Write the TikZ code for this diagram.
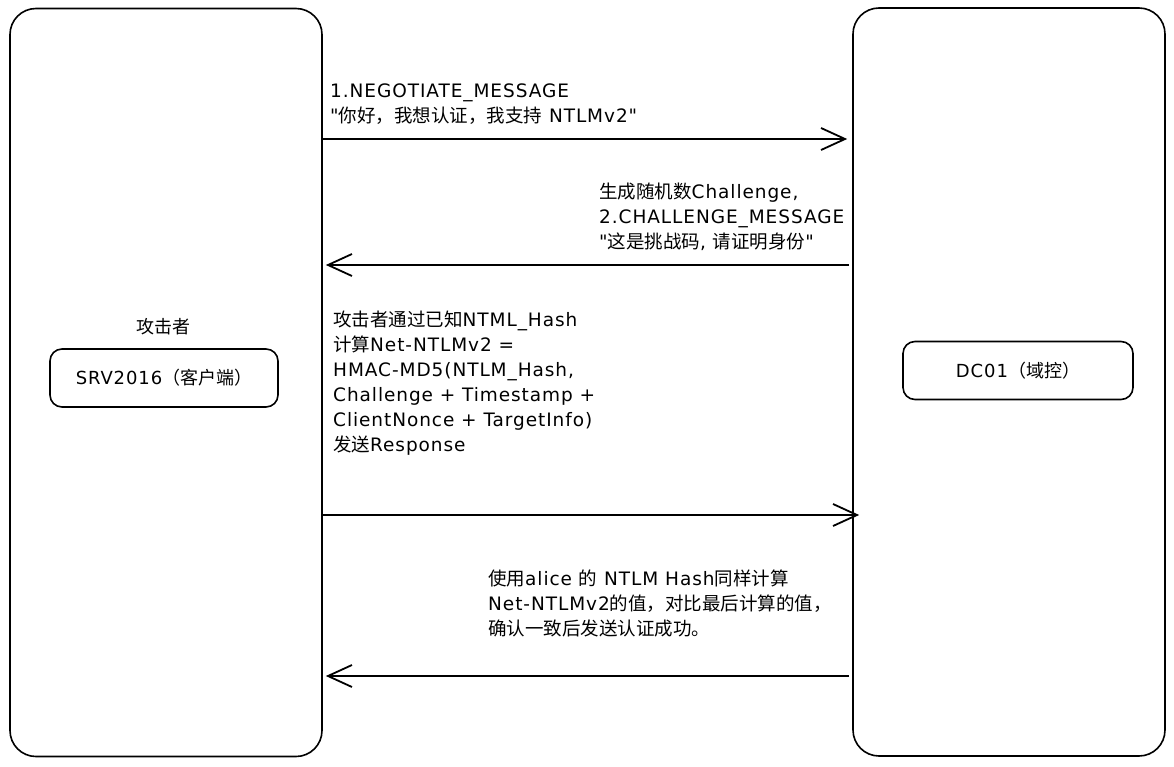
\documentclass[tikz,border=0pt]{standalone}
\usepackage{fontspec}
\setmainfont{DejaVu Sans}[LetterSpace=5, Ligatures=TeXOff]
\newfontfamily\cjk{Noto Sans CJK SC}
\usetikzlibrary{arrows.meta}
\newcommand\zh[1]{{\cjk #1}}
\newcommand\dq{\symbol{34}}
\begin{document}
\begin{tikzpicture}[x=1pt,y=-1pt,
  lane/.style={draw, line width=1.6pt, rounded corners=26pt, minimum width=312pt, minimum height=748pt, inner sep=0pt},
  host/.style={draw, line width=1.6pt, rounded corners=12pt, minimum height=58pt, inner sep=0pt, font=\fontsize{18}{20}\selectfont},
  msg/.style={anchor=north west, align=left, inner sep=0pt, font=\fontsize{18.5}{25}\selectfont},
  arr/.style={line width=1.8pt, -{Straight Barb[length=24pt, width=22pt, line width=1.8pt]}}]
\useasboundingbox (0,0) rectangle (1174,767);
\node[lane] (srv) at (166,382.5) {};
\node[lane] (dc) at (1009,382) {};
\node[font=\fontsize{18}{20}\selectfont, inner sep=0pt] (atk) at (163,327) {\zh{攻击者}};
\node[host, minimum width=228pt] (srvbox) at (164,378) {SRV2016\zh{（客户端）}};
\node[host, minimum width=230pt] (dcbox) at (1018,370.5) {DC01\zh{（域控）}};

\node[msg] (m1) at (330,84) {1.NEGOTIATE\_MESSAGE\\\dq\zh{你好，我想认证，我支持} NTLMv2\dq};
\node[msg] (m2) at (599,183) {\zh{生成随机数}Challenge,\\2.CHALLENGE\_MESSAGE\\\dq\zh{这是挑战码}, \zh{请证明身份}\dq};
\node[msg] (m3) at (333,311) {\zh{攻击者通过已知}NTML\_Hash\\\zh{计算}Net-NTLMv2 =\\HMAC-MD5(NTLM\_Hash,\\Challenge + Timestamp +\\ClientNonce + TargetInfo)\\\zh{发送}Response};
\node[msg] (m4) at (488,570) {\zh{使用}alice \zh{的} NTLM Hash\zh{同样计算}\\Net-NTLMv2\zh{的值，对比最后计算的值，}\\\zh{确认一致后发送认证成功。}};

\draw[arr] (srv.east |- 0,139) -- ([xshift=-5pt]dc.west |- 0,139);
\draw[arr] ([xshift=-3pt]dc.west |- 0,265) -- ([xshift=3pt]srv.east |- 0,265);
\draw[arr] (srv.east |- 0,515) -- ([xshift=7pt]dc.west |- 0,515);
\draw[arr] ([xshift=-3pt]dc.west |- 0,676) -- ([xshift=3pt]srv.east |- 0,676);
\end{tikzpicture}
\end{document}
